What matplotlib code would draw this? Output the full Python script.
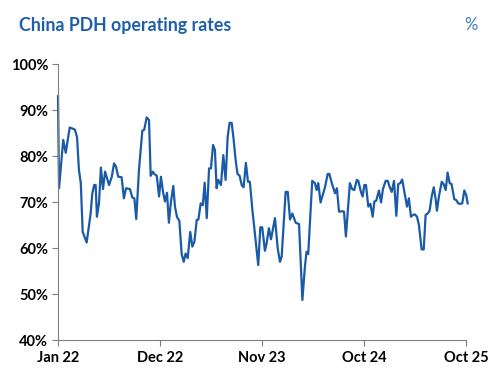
import matplotlib
matplotlib.use("Agg")
import matplotlib.pyplot as plt
from matplotlib.ticker import FuncFormatter

# weekly PDH operating rates (week 0 = start of Jan 2022)
weeks = [0.0, 0.5, 2.5, 3.7, 5.6, 7.3, 8.1, 9.1, 10.0, 10.9, 11.8, 13.7, 15.6, 16.4,
         17.3, 18.0, 18.6, 19.6, 20.5, 21.5, 22.5, 24.4, 25.7, 26.8, 27.7, 28.8,
         30.4, 31.5, 32.5, 34.4, 35.5, 36.5, 37.4, 38.7, 40.3, 41.2, 42.4, 43.5,
         44.3, 45.3, 46.0, 47.2, 48.3, 49.2, 50.2, 51.1, 52.1, 53.0, 54.0, 55.1,
         55.9, 56.9, 58.0, 59.1, 60.1, 61.0, 62.0, 63.2, 64.2, 65.2, 66.3, 67.1,
         68.2, 69.2, 70.1, 71.1, 72.2, 73.1, 74.1, 75.0, 75.8, 76.6, 77.9, 79.0,
         80.1, 81.1, 82.0, 83.0, 83.9, 84.9, 85.8, 86.8, 87.8, 88.7, 89.8, 90.8,
         91.7, 92.9, 94.1, 95.7, 96.7, 97.6, 98.9, 99.7, 100.8, 101.8, 103.7,
         105.0, 106.1, 106.9, 108.8, 109.8, 110.9, 112.0, 113.6, 115.2, 116.8,
         118.0, 118.8, 119.6, 121.5, 122.8, 123.6, 124.4, 125.5, 127.6, 128.9,
         129.7, 130.8, 132.4, 133.3, 134.3, 135.9, 136.7, 137.6, 139.5, 140.6,
         141.6, 142.8, 143.5, 144.8, 145.6, 146.4, 147.2, 148.3, 149.3, 150.4,
         151.2, 152.1, 153.4, 154.4, 155.3, 156.6, 157.6, 158.5, 159.5, 160.6,
         161.7, 162.6, 163.6, 164.5, 165.8, 166.8, 167.7, 168.7, 169.7, 170.6,
         171.6, 172.5, 173.8, 174.8, 175.7, 176.7, 177.6, 178.6, 179.6, 180.5,
         181.1, 182.1, 183.4, 184.3, 185.3, 186.2, 187.2, 188.1, 189.4, 190.4,
         191.3, 192.3, 193.2, 194.2, 195.1, 195.8]

rates = [93.0, 73.0, 83.5, 80.7, 86.2, 85.9, 85.7, 84.1, 77.0, 74.1, 63.5, 61.2, 67.5, 71.9,
         73.7, 73.7, 66.8, 69.8, 77.5, 72.8, 76.6, 73.7, 75.5, 78.4, 77.7, 75.5,
         75.4, 70.8, 73.0, 72.8, 71.0, 70.8, 66.3, 77.0, 85.5, 85.7, 88.4, 87.8,
         75.7, 76.6, 76.1, 75.7, 71.2, 75.5, 72.2, 70.1, 72.0, 65.5, 70.1, 73.5,
         69.0, 66.7, 65.9, 58.7, 57.0, 58.8, 57.8, 63.5, 60.3, 61.4, 66.1, 66.2,
         69.7, 69.3, 74.2, 66.5, 77.3, 77.3, 82.4, 81.3, 73.0, 74.8, 73.7, 80.2,
         74.8, 84.2, 87.2, 87.2, 83.8, 79.1, 76.1, 75.7, 73.7, 73.2, 78.5, 74.4,
         74.4, 68.3, 63.2, 56.3, 64.5, 64.5, 59.4, 61.0, 64.3, 61.9, 66.5,
         59.9, 57.0, 58.1, 72.2, 72.2, 66.2, 67.5, 65.5, 65.2, 48.7,
         55.9, 59.2, 58.7, 74.6, 74.1, 72.6, 74.1, 69.9, 73.2, 76.1,
         76.1, 74.2, 71.9, 73.0, 67.9, 68.0, 67.9, 62.5, 74.1, 72.8,
         72.6, 74.8, 74.6, 72.2, 71.2, 73.7, 73.7, 69.0, 69.6, 66.8,
         70.1, 70.3, 72.5, 69.9, 72.8, 74.6, 74.6, 73.3, 72.2, 74.6,
         67.0, 73.9, 74.1, 74.9, 71.5, 69.0, 70.8, 66.8, 67.2, 67.3,
         66.8, 65.0, 59.7, 59.7, 67.2, 67.5, 68.1, 71.2, 73.2, 70.6,
         68.1, 71.3, 74.4, 73.9, 72.6, 76.4, 74.1, 73.9, 70.6, 70.4,
         69.7, 69.6, 69.7, 72.5, 71.5, 69.7]

tick_weeks = [0, 48.75, 97.5, 146.25, 195]
tick_labels = ["Jan 22", "Dec 22", "Nov 23", "Oct 24", "Oct 25"]

blue = "#1a5aa6"
plt.rcParams["font.family"] = ["Lato", "DejaVu Sans"]

fig = plt.figure(figsize=(5, 3.75), dpi=100)
ax = fig.add_axes([0.116, 0.0933, 0.816, 0.736])

ax.plot(weeks, rates, color=blue, linewidth=1.6, clip_on=False)

ax.set_xlim(0, 195)
ax.set_ylim(40, 100)
ax.set_yticks(range(40, 101, 10))
ax.yaxis.set_major_formatter(FuncFormatter(lambda v, p: f"{v:.0f}%"))
ax.set_xticks(tick_weeks)
ax.set_xticklabels(tick_labels)

for side in ["top", "right"]:
    ax.spines[side].set_visible(False)
for side in ["left", "bottom"]:
    ax.spines[side].set_color("#7f7f7f")
    ax.spines[side].set_linewidth(0.8)

ax.tick_params(axis="both", colors="#7f7f7f", length=4, width=0.8, labelcolor="black")
ax.tick_params(axis="y", pad=3)
ax.tick_params(axis="x", pad=4)
for lab in ax.get_xticklabels() + ax.get_yticklabels():
    lab.set_fontweight("bold")
    lab.set_fontsize(10.5)

fig.text(0.038, 0.932, "China PDH operating rates", color="#1f5fa9",
         fontsize=12.8, fontweight="bold", va="center", ha="left")
fig.text(0.955, 0.932, "%", color="#3a7bc8", fontsize=12, va="center", ha="right")

fig.savefig("out.png", dpi=100)
